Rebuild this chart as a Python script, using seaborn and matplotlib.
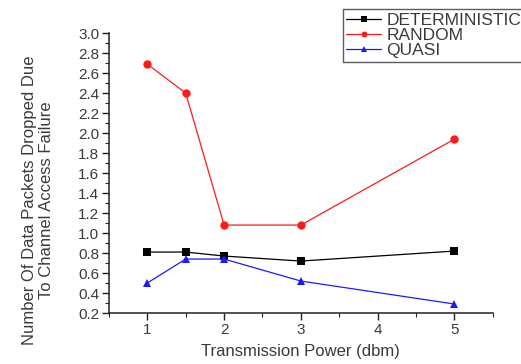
import matplotlib
matplotlib.use("Agg")
import matplotlib.pyplot as plt
import seaborn as sns
import pandas as pd
from matplotlib.ticker import MultipleLocator

power = [1, 1.5, 2, 3, 5]
deterministic = [0.81, 0.81, 0.77, 0.72, 0.82]
random_vals = [2.69, 2.40, 1.08, 1.08, 1.94]
quasi = [0.50, 0.74, 0.74, 0.52, 0.29]

sns.set_theme(style="ticks")
plt.rcParams['font.family'] = ['Liberation Sans', 'DejaVu Sans']

df = pd.DataFrame({
    "power": power * 3,
    "value": deterministic + random_vals + quasi,
    "scheme": ["DETERMINISTIC"] * 5 + ["RANDOM"] * 5 + ["QUASI"] * 5,
})

fig = plt.figure(figsize=(5.21, 3.64), dpi=100)
ax = fig.add_axes([0.209, 0.140, 0.737, 0.769])

sns.lineplot(data=df, x="power", y="value", hue="scheme", style="scheme",
             palette={"DETERMINISTIC": "black", "RANDOM": "#ff1a1a", "QUASI": "#1a1aff"},
             markers={"DETERMINISTIC": "s", "RANDOM": "o", "QUASI": "^"},
             dashes=False, markersize=6, linewidth=0.9, markeredgewidth=0,
             ax=ax)

ax.set_xlim(0.5, 5.5)
ax.set_ylim(0.2, 3.0)
ax.xaxis.set_major_locator(MultipleLocator(1))
ax.xaxis.set_minor_locator(MultipleLocator(0.5))
ax.yaxis.set_major_locator(MultipleLocator(0.2))
ax.yaxis.set_minor_locator(MultipleLocator(0.1))
ax.yaxis.set_major_formatter(matplotlib.ticker.FormatStrFormatter("%.1f"))
ax.tick_params(which="major", length=5, width=1, pad=2, color="#222222",
               labelsize=11, labelcolor="#3a3a3a")
ax.tick_params(which="minor", length=3, width=0.8, color="#222222")
for s in ["top", "right"]:
    ax.spines[s].set_visible(False)
for s in ["left", "bottom"]:
    ax.spines[s].set_color("#222222")
    ax.spines[s].set_linewidth(1.1)

ax.set_xlabel("Transmission Power (dbm)", fontsize=12, color="#3a3a3a", labelpad=5)
ax.set_ylabel("Number Of Data Packets Dropped Due\nTo Channel Access Failure",
              fontsize=12, color="#3a3a3a", linespacing=1.15)
ax.yaxis.set_label_coords(-0.143, 0.404)

leg = ax.legend(loc="upper left", bbox_to_anchor=(0.658, 0.975), bbox_transform=fig.transFigure,
                frameon=True, fancybox=False, edgecolor="#333333", fontsize=12.5,
                handlelength=2.0, handletextpad=0.3, borderpad=0.2, labelspacing=0.0,
                borderaxespad=0, markerscale=0.7)
leg.get_frame().set_linewidth(1.0)
for t in leg.get_texts():
    t.set_color("#3a3a3a")

fig.savefig("out.png", dpi=100)
